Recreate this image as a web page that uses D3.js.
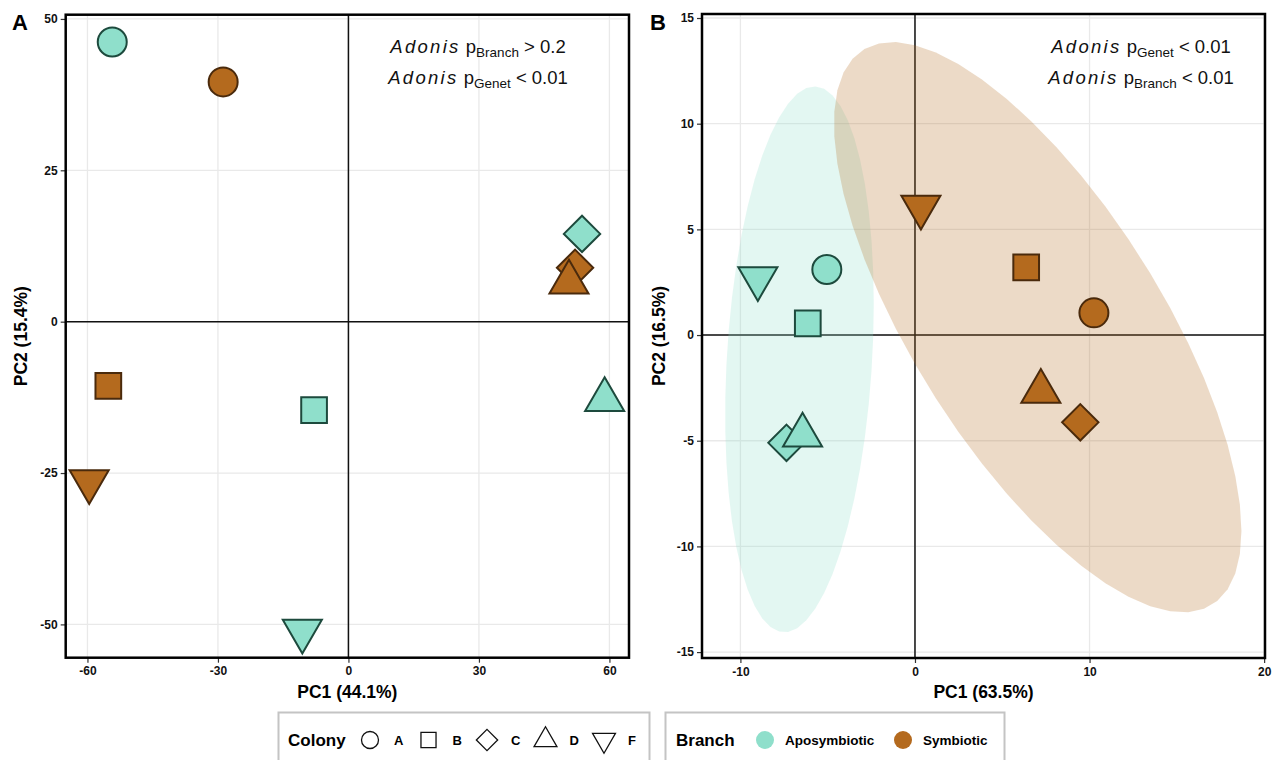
<!DOCTYPE html>
<html>
<head>
<meta charset="utf-8">
<script src="https://cdn.jsdelivr.net/npm/d3@7"></script>
<style>
  body { margin: 0; background: #fff; }
  text { font-family: "Liberation Sans", Arial, sans-serif; }
</style>
</head>
<body>
<svg id="chart" width="1283" height="760"></svg>
<script>
// samples: one symbiotic and one aposymbiotic branch per colony
const colonies = ['A', 'A', 'B', 'B', 'C', 'C', 'D', 'D', 'F', 'F'];
const branches = ['Symbiotic', 'Aposymbiotic', 'Symbiotic', 'Aposymbiotic', 'Symbiotic',
                  'Aposymbiotic', 'Symbiotic', 'Aposymbiotic', 'Symbiotic', 'Aposymbiotic'];

// panel A scores
const pc1A = [-28.8, -54.3, -55.2, -7.9, 52.1, 53.7, 50.7, 58.9, -59.6, -10.6];
const pc2A = [39.6, 46.2, -10.6, -14.6, 8.9, 14.5, 6.5, -12.9, -26.4, -51.1];

// panel B scores
const pc1B = [10.25, -5.05, 6.37, -6.14, 9.47, -7.36, 7.21, -6.44, 0.34, -9.0];
const pc2B = [1.05, 3.1, 3.2, 0.55, -4.13, -5.1, -2.67, -4.74, 6.06, 2.68];

const ticksAx = [-60, -30, 0, 30, 60];
const ticksAy = [-50, -25, 0, 25, 50];
const ticksBx = [-10, 0, 10, 20];
const ticksBy = [-15, -10, -5, 0, 5, 10, 15];

const colonyLevels = ['A', 'B', 'C', 'D', 'F'];
const branchLevels = ['Aposymbiotic', 'Symbiotic'];

const fillColor = d3.scaleOrdinal().domain(branchLevels).range(['#8fdfcb', '#b46a1e']);
const strokeColor = d3.scaleOrdinal().domain(branchLevels).range(['#1d4a3d', '#4a2a0c']);

const svg = d3.select('#chart');

// R pch 21-25 style shapes, centred on the point
function shapePath(colony, r) {
  const p = d3.path();
  if (colony === 'A') {
    p.arc(0, 0, r, 0, 2 * Math.PI);
  } else if (colony === 'B') {
    const h = r * Math.sqrt(Math.PI) / 2;
    p.rect(-h, -h, 2 * h, 2 * h);
  } else if (colony === 'C') {
    const h = r * Math.sqrt(Math.PI / 2);
    p.moveTo(0, -h); p.lineTo(h, 0); p.lineTo(0, h); p.lineTo(-h, 0); p.closePath();
  } else {
    const t0 = Math.sqrt(4 * Math.PI / (3 * Math.sqrt(3)));
    const a = t0 * r, hw = t0 * Math.sqrt(3) / 2 * r, b = t0 / 2 * r;
    const s = colony === 'D' ? 1 : -1;
    p.moveTo(0, -s * a); p.lineTo(hw, s * b); p.lineTo(-hw, s * b); p.closePath();
  }
  return p.toString();
}

// MASS::cov.trob, as used by stat_ellipse(type = "t")
function covTrob(xs, ys) {
  const n = xs.length, nu = 5, p = 2;
  let w = xs.map(() => 1);
  let loc = [d3.mean(xs), d3.mean(ys)];
  let X = [];
  for (let iter = 0; iter < 25; iter++) {
    const w0 = w.slice();
    X = xs.map((x, i) => [x - loc[0], ys[i] - loc[1]]);
    const sw = d3.sum(w);
    let a = 0, b = 0, c = 0;
    X.forEach((v, i) => { a += w[i] * v[0] * v[0]; b += w[i] * v[0] * v[1]; c += w[i] * v[1] * v[1]; });
    a /= sw; b /= sw; c /= sw;
    const det = a * c - b * b;
    const Q = X.map(v => (c * v[0] * v[0] - 2 * b * v[0] * v[1] + a * v[1] * v[1]) / det);
    w = Q.map(q => (nu + p) / (nu + q));
    const sw2 = d3.sum(w);
    loc = [d3.sum(xs, (x, i) => w[i] * x) / sw2, d3.sum(ys, (y, i) => w[i] * y) / sw2];
    if (w.every((wi, i) => Math.abs(wi - w0[i]) < 0.01)) break;
  }
  let a = 0, b = 0, c = 0;
  X.forEach((v, i) => { a += w[i] * v[0] * v[0]; b += w[i] * v[0] * v[1]; c += w[i] * v[1] * v[1]; });
  return { center: loc, a: a / n, b: b / n, c: c / n };
}

function ellipsePoints(xs, ys, level = 0.95) {
  const { center, a, b, c } = covTrob(xs, ys);
  const d2 = xs.length - 1;
  const fq = d2 / 2 * (Math.pow(1 - level, -2 / d2) - 1); // qf(level, 2, d2)
  const radius = Math.sqrt(2 * fq);
  const r11 = Math.sqrt(a), r12 = b / r11, r22 = Math.sqrt(c - r12 * r12);
  return d3.range(0, 52).map(k => {
    const t = k * 2 * Math.PI / 51;
    const u = Math.cos(t), v = Math.sin(t);
    return [center[0] + radius * u * r11, center[1] + radius * (u * r12 + v * r22)];
  });
}

function drawPanel(o) {
  const g = svg.append('g');
  const x = d3.scaleLinear().domain(o.xDomain).range([o.left, o.right]);
  const y = d3.scaleLinear().domain(o.yDomain).range([o.bottom, o.top]);

  const clipId = 'clip' + o.label;
  g.append('clipPath').attr('id', clipId)
    .append('rect').attr('x', o.left).attr('y', o.top)
    .attr('width', o.right - o.left).attr('height', o.bottom - o.top);

  // grid
  g.append('g').selectAll('line').data(o.xTicks).join('line')
    .attr('x1', d => x(d)).attr('x2', d => x(d))
    .attr('y1', o.top).attr('y2', o.bottom)
    .attr('stroke', '#e9e9e9').attr('stroke-width', 1.3);
  g.append('g').selectAll('line').data(o.yTicks).join('line')
    .attr('y1', d => y(d)).attr('y2', d => y(d))
    .attr('x1', o.left).attr('x2', o.right)
    .attr('stroke', '#e9e9e9').attr('stroke-width', 1.3);

  // zero lines
  g.append('line').attr('x1', x(0)).attr('x2', x(0)).attr('y1', o.top).attr('y2', o.bottom)
    .attr('stroke', '#111').attr('stroke-width', 1.5);
  g.append('line').attr('y1', y(0)).attr('y2', y(0)).attr('x1', o.left).attr('x2', o.right)
    .attr('stroke', '#111').attr('stroke-width', 1.5);

  if (o.ellipse) {
    const line = d3.line().x(d => x(d[0])).y(d => y(d[1]));
    g.append('g').attr('clip-path', `url(#${clipId})`)
      .selectAll('path').data(branchLevels).join('path')
      .attr('d', b => {
        const idx = branches.map((v, i) => v === b ? i : -1).filter(i => i >= 0);
        return line(ellipsePoints(idx.map(i => o.pc1[i]), idx.map(i => o.pc2[i])));
      })
      .attr('fill', b => fillColor(b)).attr('fill-opacity', 0.25);
  }

  // points
  g.append('g').selectAll('path').data(d3.range(colonies.length)).join('path')
    .attr('transform', i => `translate(${x(o.pc1[i])},${y(o.pc2[i])})`)
    .attr('d', i => shapePath(colonies[i], 14.5))
    .attr('fill', i => fillColor(branches[i]))
    .attr('stroke', i => strokeColor(branches[i]))
    .attr('stroke-width', 2).attr('stroke-linejoin', 'miter');

  // axes
  const fmt = d => String(d);
  const xAxis = g.append('g').attr('transform', `translate(0,${o.bottom})`)
    .call(d3.axisBottom(x).tickValues(o.xTicks).tickSize(5).tickPadding(4).tickFormat(fmt));
  const yAxis = g.append('g').attr('transform', `translate(${o.left},0)`)
    .call(d3.axisLeft(y).tickValues(o.yTicks).tickSize(5).tickPadding(3).tickFormat(fmt));
  [xAxis, yAxis].forEach(ax => {
    ax.select('.domain').remove();
    ax.selectAll('.tick line').attr('stroke', '#333').attr('stroke-width', 1.2);
    ax.selectAll('.tick text').attr('fill', '#111').style('font-size', '12px')
      .style('font-weight', 'bold').style('font-family', '"Liberation Sans", Arial, sans-serif');
  });

  // frame
  g.append('rect').attr('x', o.left).attr('y', o.top)
    .attr('width', o.right - o.left).attr('height', o.bottom - o.top)
    .attr('fill', 'none').attr('stroke', '#000').attr('stroke-width', 2.5);

  // titles
  g.append('text').attr('x', (o.left + o.right) / 2).attr('y', 698)
    .attr('text-anchor', 'middle').style('font-size', '17.5px').style('font-weight', 'bold')
    .text(o.xTitle);
  g.append('text')
    .attr('transform', `translate(${o.yTitleX},${(o.top + o.bottom) / 2}) rotate(-90)`)
    .attr('text-anchor', 'middle').style('font-size', '17.5px').style('font-weight', 'bold')
    .text(o.yTitle);
  g.append('text').attr('x', o.labelX).attr('y', 30)
    .style('font-size', '22px').style('font-weight', 'bold').text(o.label);

  // adonis annotations
  o.notes.forEach((nt, k) => {
    const t = g.append('text').attr('x', o.noteX).attr('y', 53 + k * 31)
      .attr('text-anchor', 'middle').style('font-size', '18.5px').attr('fill', '#111');
    t.append('tspan').style('font-style', 'italic').attr('letter-spacing', '2.3').text('Adonis');
    t.append('tspan').text(' p');
    t.append('tspan').style('font-size', '13.5px').attr('dy', 4).text(nt[0]);
    t.append('tspan').attr('dy', -4).text(' ' + nt[1]);
  });
}

drawPanel({
  label: 'A', labelX: 12, left: 65.7, right: 629, top: 14.7, bottom: 657.7,
  xDomain: [-65.0, 64.5], yDomain: [-55.5, 50.7],
  xTicks: ticksAx, yTicks: ticksAy, pc1: pc1A, pc2: pc2A,
  xTitle: 'PC1 (44.1%)', yTitle: 'PC2 (15.4%)', yTitleX: 27,
  ellipse: false, noteX: 478,
  notes: [['Branch', '> 0.2'], ['Genet', '< 0.01']]
});

drawPanel({
  label: 'B', labelX: 650, left: 702, right: 1265, top: 14, bottom: 658,
  xDomain: [-12.2, 20.05], yDomain: [-15.28, 15.19],
  xTicks: ticksBx, yTicks: ticksBy, pc1: pc1B, pc2: pc2B,
  xTitle: 'PC1 (63.5%)', yTitle: 'PC2 (16.5%)', yTitleX: 665,
  ellipse: true, noteX: 1141,
  notes: [['Genet', '< 0.01'], ['Branch', '< 0.01']]
});

// legends
const legY = 740;
const lg1 = svg.append('g');
lg1.append('rect').attr('x', 278.5).attr('y', 712.5).attr('width', 371).attr('height', 60)
  .attr('fill', '#fff').attr('stroke', '#c4c4c4').attr('stroke-width', 2);
lg1.append('text').attr('x', 288).attr('y', legY + 6).style('font-size', '17px')
  .style('font-weight', 'bold').text('Colony');
const cItems = lg1.selectAll('g.item').data(colonyLevels).join('g').attr('class', 'item')
  .attr('transform', (d, i) => `translate(${370 + i * 58.5},${legY})`);
cItems.append('path').attr('d', d => shapePath(d, 8.5))
  .attr('fill', 'none').attr('stroke', '#111').attr('stroke-width', 1.3);
cItems.append('text').attr('x', 24).attr('y', 5).style('font-size', '13px')
  .style('font-weight', 'bold').text(d => d);

const lg2 = svg.append('g');
lg2.append('rect').attr('x', 665.5).attr('y', 712.5).attr('width', 339).attr('height', 60)
  .attr('fill', '#fff').attr('stroke', '#c4c4c4').attr('stroke-width', 2);
lg2.append('text').attr('x', 676).attr('y', legY + 6).style('font-size', '17px')
  .style('font-weight', 'bold').text('Branch');
const bPos = [765, 903];
const bItems = lg2.selectAll('g.item').data(branchLevels).join('g').attr('class', 'item')
  .attr('transform', (d, i) => `translate(${bPos[i]},${legY})`);
bItems.append('circle').attr('r', 9).attr('fill', d => fillColor(d));
bItems.append('text').attr('x', 20).attr('y', 5).style('font-size', '13.5px')
  .style('font-weight', 'bold').text(d => d);
</script>
</body>
</html>
